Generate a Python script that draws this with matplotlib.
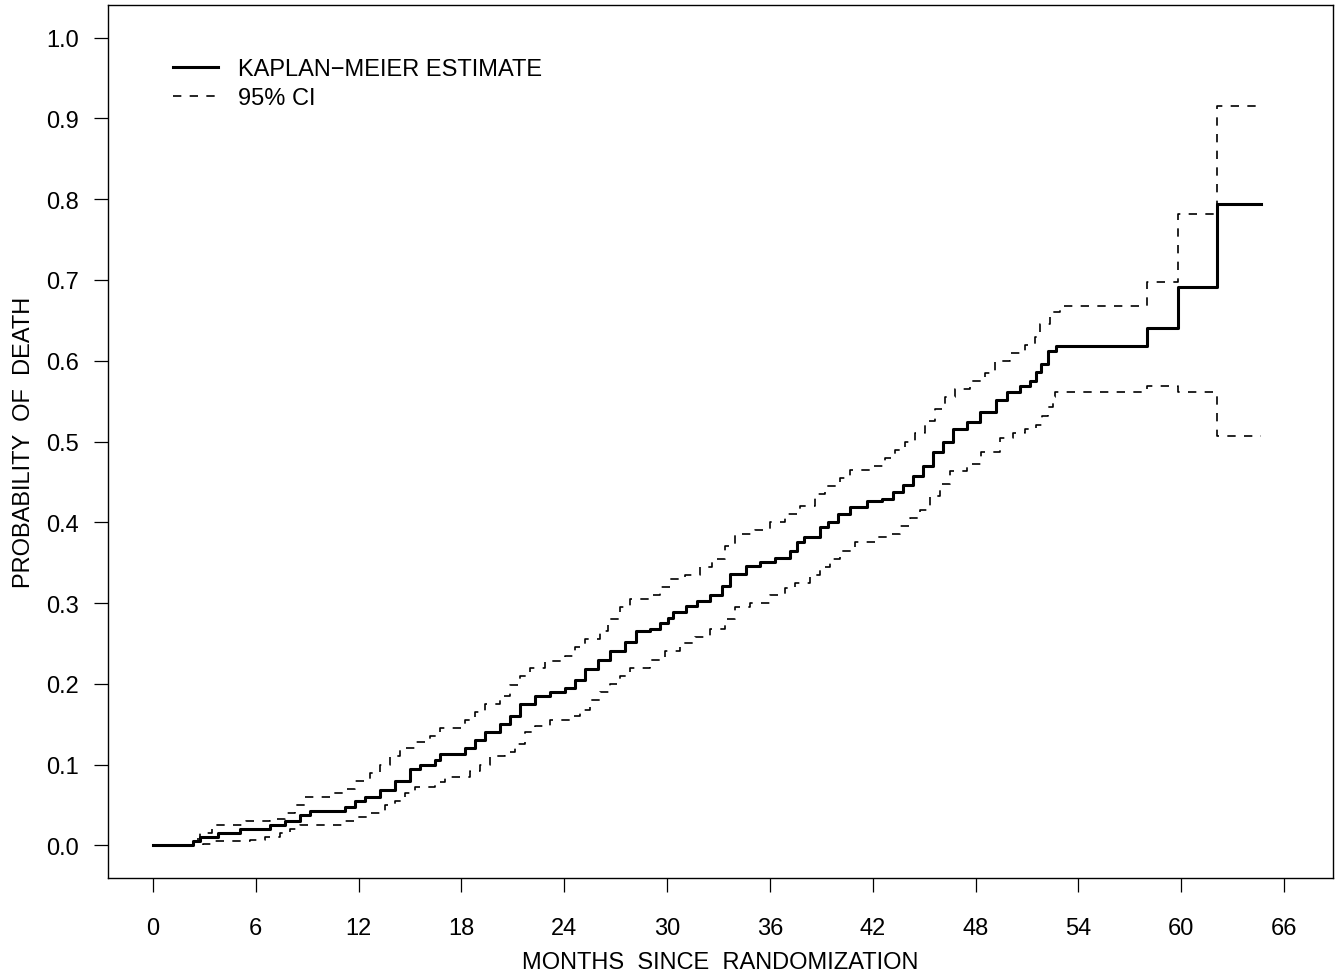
import matplotlib
matplotlib.use("Agg")
import matplotlib.pyplot as plt
from matplotlib.lines import Line2D

plt.rcParams['font.family'] = ['Liberation Sans', 'DejaVu Sans']

# Kaplan-Meier estimate (step times in months, cumulative probability of death)
km_months = [0, 2.33, 2.74, 3.79, 5.08, 6.82, 7.70, 8.58, 9.16, 11.20, 11.79, 12.37,
             13.25, 14.12, 15.00, 15.58, 16.46, 16.75, 18.21, 18.79, 19.37, 20.25,
             20.83, 21.41, 22.29, 23.17, 24.04, 24.63, 25.21, 25.97, 26.67, 27.54,
             28.20, 29.00, 29.58, 30.05, 30.35, 31.10, 31.75, 32.50, 33.20, 33.70,
             34.60, 35.40, 36.30, 37.17, 37.60, 38.00, 38.90, 39.40, 40.00, 40.67,
             41.67, 42.54, 43.19, 43.77, 44.35, 44.94, 45.52, 46.11, 46.69, 47.50,
             48.26, 49.20, 49.84, 50.60, 51.20, 51.50, 51.80, 52.20, 52.70, 58.01,
             59.82, 62.09, 64.66]
km_prob = [0.000, 0.005, 0.010, 0.015, 0.020, 0.025, 0.030, 0.037, 0.043, 0.047, 0.055, 0.060,
           0.068, 0.080, 0.095, 0.100, 0.105, 0.113, 0.120, 0.130, 0.140, 0.150,
           0.160, 0.175, 0.185, 0.190, 0.195, 0.205, 0.218, 0.230, 0.240, 0.252,
           0.265, 0.268, 0.275, 0.282, 0.289, 0.296, 0.303, 0.310, 0.321, 0.336,
           0.346, 0.351, 0.356, 0.365, 0.375, 0.382, 0.394, 0.400, 0.410, 0.419,
           0.426, 0.429, 0.437, 0.446, 0.457, 0.470, 0.487, 0.500, 0.515, 0.524,
           0.536, 0.552, 0.561, 0.569, 0.575, 0.586, 0.596, 0.612, 0.618, 0.640,
           0.691, 0.794, 0.794]

# upper 95% confidence limit
upper_months = [0, 2.33, 2.74, 3.44, 5.43, 6.82, 7.70, 8.28, 8.87, 10.33, 11.20, 11.79,
                12.66, 13.25, 13.83, 14.41, 15.29, 16.17, 16.75, 18.21, 18.79, 19.37,
                20.25, 20.83, 21.41, 22.00, 22.88, 24.04, 24.63, 25.21, 26.08, 26.55,
                27.25, 27.84, 29.00, 29.58, 30.17, 31.04, 31.92, 32.62, 33.38, 33.96,
                35.13, 36.01, 36.88, 37.76, 38.63, 39.22, 40.09, 40.67, 41.84, 42.72,
                43.30, 43.88, 44.47, 45.05, 45.64, 46.22, 46.80, 47.68, 48.55, 49.14,
                50.01, 50.89, 51.47, 51.76, 52.35, 52.93, 58.01, 59.82, 62.09, 64.66]
upper_prob = [0.000, 0.008, 0.015, 0.025, 0.030, 0.033, 0.040, 0.050, 0.060, 0.065, 0.070, 0.080,
              0.090, 0.100, 0.110, 0.120, 0.128, 0.135, 0.145, 0.155, 0.165, 0.175,
              0.185, 0.198, 0.210, 0.220, 0.228, 0.235, 0.245, 0.255, 0.265, 0.280,
              0.295, 0.305, 0.310, 0.320, 0.330, 0.335, 0.345, 0.355, 0.370, 0.385,
              0.390, 0.400, 0.410, 0.420, 0.435, 0.445, 0.455, 0.465, 0.470, 0.480,
              0.490, 0.500, 0.510, 0.525, 0.540, 0.555, 0.565, 0.575, 0.585, 0.600,
              0.610, 0.620, 0.630, 0.645, 0.660, 0.668, 0.698, 0.782, 0.915, 0.915]

# lower 95% confidence limit
lower_months = [0, 2.92, 3.62, 5.66, 6.53, 7.41, 7.99, 8.58, 11.20, 11.79, 12.66, 13.54,
                14.12, 14.71, 15.29, 16.46, 17.04, 18.50, 19.08, 19.67, 20.54, 21.12,
                21.71, 22.29, 23.17, 24.34, 24.92, 25.50, 26.08, 26.67, 27.25, 27.84,
                29.00, 29.88, 30.75, 31.63, 32.50, 33.38, 33.96, 34.84, 36.01, 36.88,
                37.46, 38.34, 38.92, 39.51, 40.09, 40.97, 42.14, 43.01, 43.59, 44.18,
                44.76, 45.34, 45.93, 46.50, 47.50, 48.30, 49.40, 50.20, 50.90, 51.50,
                51.90, 52.20, 52.50, 52.64, 58.01, 59.82, 62.09, 64.66]
lower_prob = [0.000, 0.002, 0.005, 0.007, 0.010, 0.015, 0.020, 0.025, 0.030, 0.035, 0.040, 0.050,
              0.055, 0.065, 0.072, 0.078, 0.085, 0.092, 0.100, 0.110, 0.115, 0.125,
              0.140, 0.148, 0.155, 0.160, 0.168, 0.180, 0.190, 0.200, 0.210, 0.220,
              0.230, 0.240, 0.250, 0.258, 0.268, 0.280, 0.295, 0.300, 0.310, 0.318,
              0.325, 0.335, 0.345, 0.355, 0.365, 0.375, 0.382, 0.386, 0.395, 0.405,
              0.415, 0.432, 0.447, 0.464, 0.472, 0.487, 0.504, 0.510, 0.516, 0.520,
              0.531, 0.543, 0.555, 0.561, 0.569, 0.561, 0.507, 0.507]

x_ticks = list(range(0, 67, 6))
y_ticks = [0.0, 0.1, 0.2, 0.3, 0.4, 0.5, 0.6, 0.7, 0.8, 0.9, 1.0]

fig = plt.figure(figsize=(13.44, 9.79), dpi=100)
ax = fig.add_axes([108 / 1344, 1 - 879 / 979, (1333 - 108) / 1344, (879 - 6) / 979])

ax.step(km_months, km_prob, where='post', color='black', lw=2.2)
ax.step(upper_months, upper_prob, where='post', color='black', lw=1.2, dashes=(5, 5))
ax.step(lower_months, lower_prob, where='post', color='black', lw=1.2, dashes=(5, 5))

ax.set_xlim(-2.626, 68.86)
ax.set_ylim(-0.0405, 1.0405)
ax.set_xticks(x_ticks)
ax.set_yticks(y_ticks)
ax.set_yticklabels([f'{v:.1f}' for v in y_ticks])
ax.tick_params(axis='both', direction='out', length=10, width=0.9, labelsize=17, colors='black')
ax.tick_params(axis='x', pad=18)
ax.tick_params(axis='y', pad=11)
for s in ax.spines.values():
    s.set_linewidth(1.0)

ax.set_xlabel('MONTHS  SINCE  RANDOMIZATION', fontsize=17, labelpad=9)
ax.set_ylabel('PROBABILITY  OF  DEATH', fontsize=17, labelpad=8)

handles = [Line2D([], [], color='black', lw=2.2),
           Line2D([], [], color='black', lw=1.2, dashes=(5, 5))]
ax.legend(handles, ['KAPLAN\u2212MEIER ESTIMATE', '95% CI'], loc='upper left',
          bbox_to_anchor=((173 - 108) / 1225, (879 - 59) / 873), frameon=False,
          fontsize=17, handlelength=1.9, handletextpad=0.85, borderpad=0,
          borderaxespad=0, labelspacing=0.3)

fig.savefig('out.png', dpi=100)
